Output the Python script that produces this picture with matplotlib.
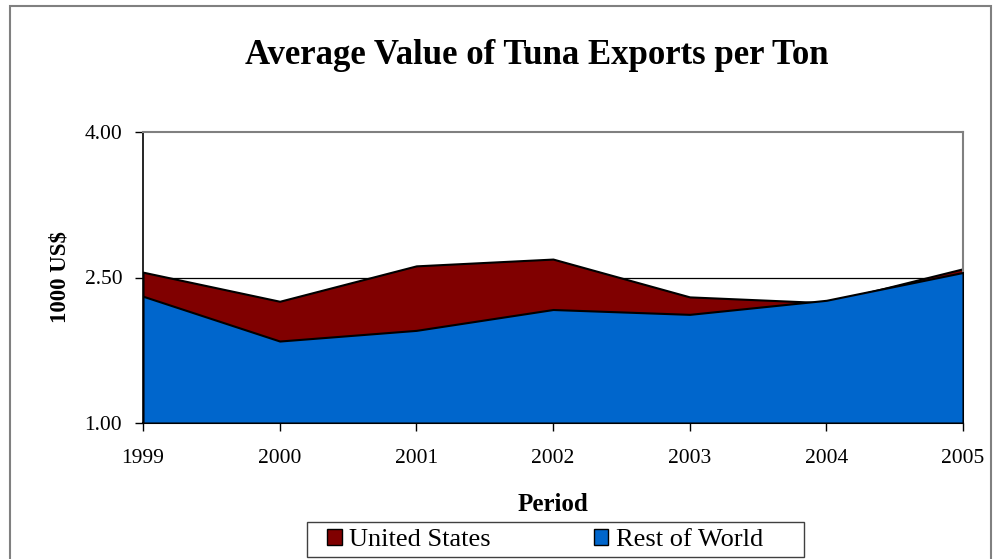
import matplotlib.pyplot as plt
from matplotlib.patches import Patch, Rectangle

# Average value of tuna exports per ton (1000 US$), overlapping area chart
years = [1999, 2000, 2001, 2002, 2003, 2004, 2005]
united_states = [2.555, 2.255, 2.62, 2.69, 2.30, 2.24, 2.59]
rest_of_world = [2.307, 1.845, 1.955, 2.17, 2.12, 2.265, 2.552]
y_ticks = [1.0, 2.5, 4.0]

us_color = '#800000'
row_color = '#0066CC'

plt.rcParams['font.family'] = ['Liberation Serif', 'DejaVu Serif']

fig = plt.figure(figsize=(9.93, 5.59), dpi=100)
ax = fig.add_axes([143 / 993, 1 - 423 / 559, (963 - 143) / 993, (423 - 132) / 559])

# outer chart border
fig.patches.append(Rectangle((10 / 993, -0.01), 981 / 993, 1.01 - 6 / 559,
                             transform=fig.transFigure, fill=False,
                             edgecolor='#808080', linewidth=1.5))

ax.axhline(2.5, color='black', linewidth=0.9, zorder=1)
ax.fill_between(years, 1.0, united_states, facecolor=us_color,
                edgecolor='black', linewidth=1.5, zorder=2)
ax.fill_between(years, 1.0, rest_of_world, facecolor=row_color,
                edgecolor='black', linewidth=1.5, zorder=3)

ax.set_xlim(1999, 2005)
ax.set_ylim(1.0, 4.0)
ax.set_yticks(y_ticks)
ax.set_yticklabels(['%.2f' % v for v in y_ticks])
ax.set_xticks(years)
ax.tick_params(axis='both', direction='out', length=6, width=1, labelsize=15.5)
ax.tick_params(axis='x', pad=13)
ax.tick_params(axis='y', pad=9)

for side in ['top', 'right']:
    ax.spines[side].set_color('#808080')
    ax.spines[side].set_linewidth(1.5)
ax.spines['left'].set_linewidth(1.2)
ax.spines['bottom'].set_linewidth(1.5)

ax.set_ylabel('1000 US$', fontsize=16.5, fontweight='bold', labelpad=10)
ax.set_xlabel('Period', fontsize=18, fontweight='bold', labelpad=18)
fig.text(0.541, 1 - 55 / 559, 'Average Value of Tuna Exports per Ton',
         ha='center', va='center', fontsize=25, fontweight='bold')

# legend frame drawn separately to match the wide box
fig.patches.append(Rectangle((307 / 993, 1 - 557 / 559), 497 / 993, 35 / 559,
                             transform=fig.transFigure, facecolor='white',
                             edgecolor='#404040', linewidth=1, zorder=5))
handles = [Patch(facecolor=us_color, edgecolor='black', label='United States'),
           Patch(facecolor=row_color, edgecolor='black', label='Rest of World')]
leg = fig.legend(handles=handles, loc='center left', ncol=2,
                 bbox_to_anchor=(327 / 993, 1 - 540 / 559),
                 fontsize=19, frameon=False,
                 handlelength=0.55, handleheight=0.55, handletextpad=0.3,
                 columnspacing=3.9, borderpad=0, borderaxespad=0)
leg.set_zorder(6)

fig.savefig('out.png', dpi=100)
